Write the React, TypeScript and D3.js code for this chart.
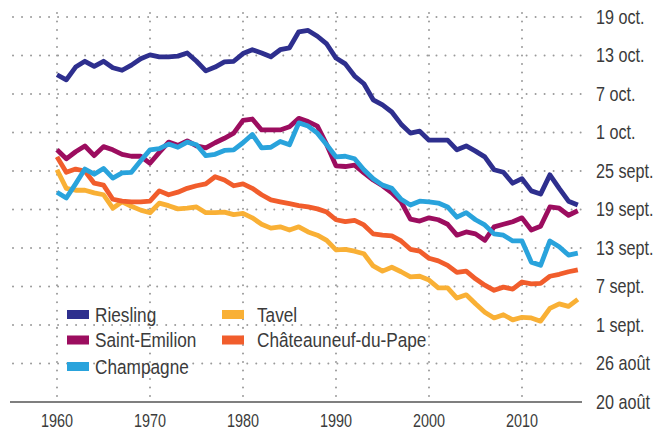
import React from "react";
import * as d3 from "d3";

// Years of harvest start
const years = [
  1960, 1961, 1962, 1963, 1964, 1965, 1966, 1967, 1968, 1969,
  1970, 1971, 1972, 1973, 1974, 1975, 1976, 1977, 1978, 1979,
  1980, 1981, 1982, 1983, 1984, 1985, 1986, 1987, 1988, 1989,
  1990, 1991, 1992, 1993, 1994, 1995, 1996, 1997, 1998, 1999,
  2000, 2001, 2002, 2003, 2004, 2005, 2006, 2007, 2008, 2009,
  2010, 2011, 2012, 2013, 2014, 2015, 2016,
];

// Values: days after 1 September (negative = August)
const riesling = [
  39.0, 38.2, 40.2, 41.1, 40.3, 41.1, 40.1, 39.7, 40.5, 41.5,
  42.1, 41.8, 41.8, 41.9, 42.4, 41.1, 39.6, 40.2, 41.0, 41.1,
  42.3, 42.9, 42.4, 41.8, 42.9, 43.2, 45.7, 45.9, 45.0, 43.8,
  41.6, 40.7, 38.8, 37.6, 35.1, 34.3, 33.2, 31.3, 29.9, 30.2,
  28.8, 28.8, 28.8, 27.3, 27.9, 27.1, 26.2, 24.2, 23.8, 22.1,
  22.8, 20.9, 20.4, 23.4, 21.3, 19.3, 18.7,
];
const saintEmilion = [
  27.3, 25.9, 27.0, 27.9, 26.4, 27.8, 27.3, 26.6, 26.3, 26.3,
  25.2, 26.9, 28.5, 28.0, 28.7, 27.9, 27.6, 28.4, 29.1, 29.9,
  31.9, 32.1, 30.4, 30.4, 30.4, 30.9, 32.2, 31.7, 31.0, 28.1,
  24.8, 24.7, 24.9, 23.7, 22.6, 21.7, 20.6, 19.2, 16.5, 16.2,
  16.7, 16.4, 15.7, 14.0, 14.5, 14.2, 13.2, 15.3, 15.7, 16.1,
  16.7, 14.8, 15.4, 18.4, 18.2, 17.1, 17.8,
];
const champagne = [
  20.7, 19.8, 22.0, 24.3, 23.5, 24.4, 22.9, 23.7, 23.8, 25.6,
  27.3, 27.5, 28.2, 27.7, 28.5, 28.1, 26.4, 26.6, 27.2, 27.3,
  28.4, 29.7, 27.6, 27.7, 28.6, 28.1, 31.5, 31.0, 29.9, 28.1,
  26.2, 26.3, 25.9, 24.2, 22.8, 21.8, 21.3, 19.6, 18.7, 19.3,
  19.2, 19.0, 18.4, 16.8, 17.5, 16.4, 15.6, 14.2, 14.0, 13.1,
  13.1, 9.8, 9.3, 13.1, 12.2, 10.9, 11.2,
];
const tavel = [
  24.2, 21.3, 21.0, 21.0, 20.6, 20.3, 18.2, 19.2, 18.5, 17.9,
  17.5, 19.0, 18.6, 18.1, 18.2, 18.4, 17.5, 17.5, 17.6, 17.2,
  17.4, 16.7, 15.7, 15.1, 15.3, 14.8, 15.3, 14.5, 14.0, 13.2,
  11.7, 11.8, 11.5, 11.1, 9.2, 8.4, 9.0, 8.3, 7.5, 7.6,
  7.0, 5.8, 5.8, 4.2, 4.7, 3.3, 2.0, 1.1, 1.6, 0.8,
  1.2, 1.1, 0.6, 2.6, 3.3, 2.9, 4.0,
];
const chateauneuf = [
  26.2, 23.8, 24.3, 24.0, 22.1, 21.8, 19.6, 19.3, 19.2, 19.2,
  19.3, 20.9, 20.3, 20.7, 21.3, 21.7, 22.0, 23.1, 22.6, 21.7,
  22.0, 21.3, 20.3, 19.5, 19.2, 18.9, 18.6, 18.4, 18.1, 17.6,
  16.4, 16.1, 16.3, 15.6, 14.2, 14.0, 13.9, 13.1, 11.8, 11.5,
  10.4, 10.0, 9.3, 8.2, 8.4, 7.2, 6.2, 5.4, 5.9, 5.6,
  6.7, 6.4, 6.5, 7.6, 7.9, 8.3, 8.6,
];

const seriesNames = ["Riesling", "Saint-Emilion", "Champagne", "Tavel", "Châteauneuf-du-Pape"];
const seriesColors = ["#2e2f8e", "#9c0d5f", "#29a3dc", "#f9b035", "#f15d2c"];

const yTickValues = [-12, -6, 0, 6, 12, 18, 24, 30, 36, 42, 48];
const yTickLabels = [
  "20 août", "26 août", "1 sept.", "7 sept.", "13 sept.", "19 sept.",
  "25 sept.", "1 oct.", "7 oct.", "13 oct.", "19 oct.",
];
const xTickValues = [1960, 1970, 1980, 1990, 2000, 2010];

const FONT = "'Liberation Sans', Arial, sans-serif";
const TEXT = "#3b3b3b";

function NarrowText(props: {
  x: number;
  y: number;
  size: number;
  sx: number;
  anchor?: "start" | "middle" | "end";
  children: React.ReactNode;
}) {
  return (
    <text
      transform={`translate(${props.x},${props.y}) scale(${props.sx},1)`}
      textAnchor={props.anchor || "start"}
      fontFamily={FONT}
      fontSize={props.size}
      fill={TEXT}
    >
      {props.children}
    </text>
  );
}

export default function App() {
  const x = d3.scaleLinear().domain([1960, 2010]).range([57, 522]);
  const y = d3.scaleLinear().domain([-12, 48]).range([402, 17]);

  const allSeries = [riesling, saintEmilion, champagne, tavel, chateauneuf];
  const line = d3
    .line<number>()
    .x((_, i) => x(years[i]))
    .y((d) => y(d));

  // draw order: Tavel, Châteauneuf, Saint-Emilion, Champagne, Riesling
  const drawOrder = [3, 4, 1, 2, 0];

  const legendCols = [
    { idx: [0, 1, 2], sx: 67, tx: 95 },
    { idx: [3, 4], sx: 222, tx: 257 },
  ];
  const legendRowY = [314.5, 340, 366.5];

  return (
    <svg
      width={666}
      height={433}
      style={{ position: "absolute", left: 0, top: 0, background: "#fff" }}
    >
      <rect x={0} y={0} width={666} height={433} fill="#fff" />
      {/* horizontal dotted gridlines */}
      {yTickValues.slice(1).map((v) => (
        <line
          key={"h" + v}
          x1={13}
          x2={583}
          y1={y(v)}
          y2={y(v)}
          stroke="#9a9a9a"
          strokeWidth={2}
          strokeDasharray="0.01 9"
          strokeLinecap="round"
        />
      ))}
      {/* vertical dotted gridlines */}
      {xTickValues.map((v) => (
        <line
          key={"v" + v}
          x1={x(v)}
          x2={x(v)}
          y1={13}
          y2={400}
          stroke="#9a9a9a"
          strokeWidth={2}
          strokeDasharray="0.01 8.5"
          strokeLinecap="round"
        />
      ))}
      {/* axis line */}
      <line x1={10} x2={582} y1={402} y2={402} stroke="#555" strokeWidth={1.6} />
      {/* x labels */}
      {xTickValues.map((v) => (
        <NarrowText key={"xt" + v} x={x(v)} y={426.5} size={18} sx={0.8} anchor="middle">
          {v}
        </NarrowText>
      ))}
      {/* y labels on right */}
      {yTickValues.map((v, i) => (
        <NarrowText key={"yt" + v} x={596} y={y(v) + 6.8} size={19.5} sx={0.83}>
          {yTickLabels[i]}
        </NarrowText>
      ))}
      {/* lines */}
      {drawOrder.map((si) => (
        <path
          key={"s" + si}
          d={line(allSeries[si]) || ""}
          fill="none"
          stroke={seriesColors[si]}
          strokeWidth={4.8}
          strokeLinejoin="round"
        />
      ))}
      {/* legend */}
      {legendCols.map((col) =>
        col.idx.map((si, ri) => (
          <g key={"lg" + si}>
            <rect
              x={col.sx}
              y={legendRowY[ri] - 4.5}
              width={22}
              height={9}
              fill={seriesColors[si]}
            />
            <NarrowText x={col.tx} y={legendRowY[ri] + 7.2} size={20.5} sx={0.84}>
              {seriesNames[si]}
            </NarrowText>
          </g>
        ))
      )}
    </svg>
  );
}
